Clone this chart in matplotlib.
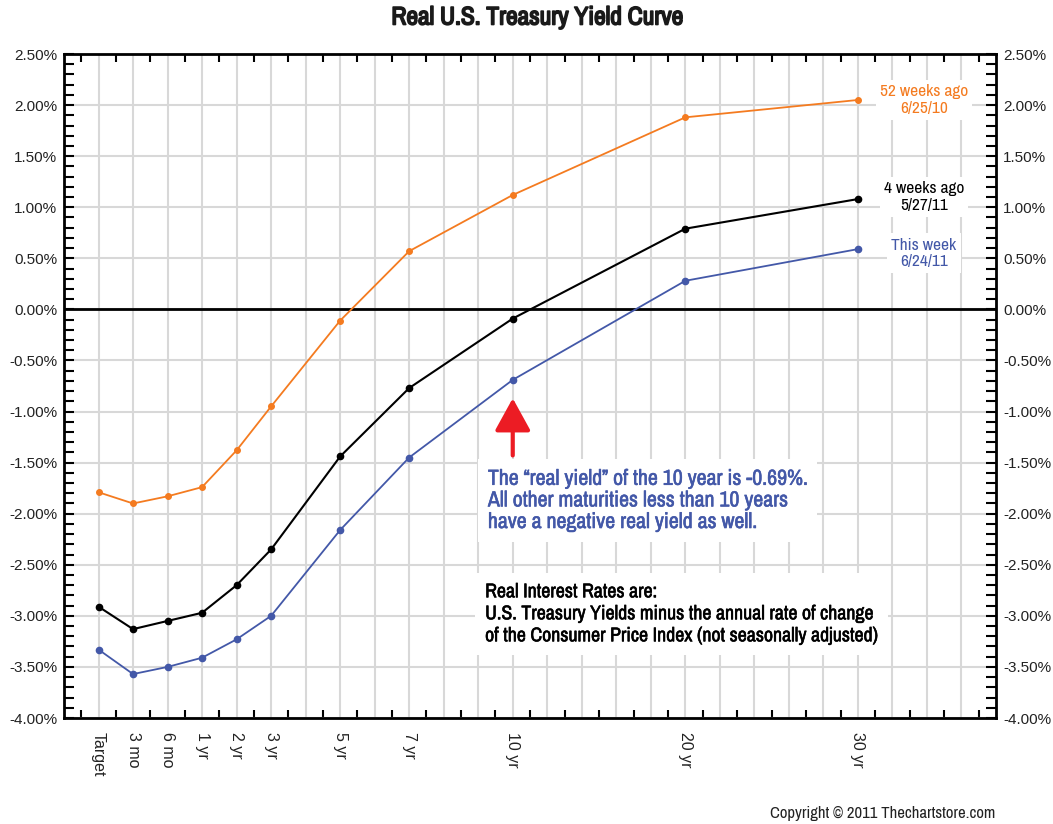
import matplotlib.pyplot as plt
import matplotlib.patheffects as pe
from matplotlib.ticker import FixedLocator, MultipleLocator, FuncFormatter
import numpy as np

plt.rcParams['font.family'] = ['Liberation Sans', 'DejaVu Sans']
narrow = ['Archivo Narrow', 'Liberation Sans', 'DejaVu Sans']

# maturities and where they sit on the grid
maturities = ['Target', '3 mo', '6 mo', '1 yr', '2 yr', '3 yr', '5 yr', '7 yr', '10 yr', '20 yr', '30 yr']
positions = [1, 2, 3, 4, 5, 6, 8, 10, 13, 18, 23]

# real yields (%)
this_week = [-3.33, -3.57, -3.50, -3.41, -3.23, -3.00, -2.16, -1.45, -0.69, 0.28, 0.59]
weeks4_ago = [-2.91, -3.13, -3.05, -2.97, -2.70, -2.35, -1.44, -0.77, -0.09, 0.79, 1.08]
weeks52_ago = [-1.79, -1.90, -1.83, -1.74, -1.38, -0.95, -0.11, 0.57, 1.12, 1.88, 2.05]

orange = '#f47b20'
blue = '#4358a8'
red = '#ec1c24'

fig = plt.figure(figsize=(10.53, 8.24), dpi=100)
ax = fig.add_axes([64 / 1053, 1 - 718 / 824, 932 / 1053, 664 / 824])

ax.plot(positions, weeks52_ago, color=orange, lw=1.3, marker='o', ms=4, zorder=4)
ax.plot(positions, weeks4_ago, color='black', lw=1.5, marker='o', ms=4.5, zorder=4)
ax.plot(positions, this_week, color=blue, lw=1.3, marker='o', ms=4.5, zorder=4)

ax.axhline(0, color='black', lw=2, zorder=3)

ax.set_xlim(0, 27)
ax.set_ylim(-4.0, 2.5)

# x axis: grid at every integer, small ticks halfway between
ax.xaxis.set_major_locator(FixedLocator(np.arange(1, 27)))
ax.set_xticklabels([maturities[positions.index(i)] if i in positions else '' for i in range(1, 27)],
                   rotation=270, fontsize=11.5, color='#222222')
ax.xaxis.set_minor_locator(FixedLocator(np.arange(0.5, 27, 1)))
ax.tick_params(axis='x', which='major', length=0, pad=10)
ax.tick_params(axis='x', which='minor', direction='in', length=6, width=1.5, top=True, bottom=True)

# y axis: labels on both sides, minor ticks every 0.1%
ax.yaxis.set_major_locator(MultipleLocator(0.5))
ax.yaxis.set_minor_locator(MultipleLocator(0.1))
ax.yaxis.set_major_formatter(FuncFormatter(lambda v, p: '%.2f%%' % v))
ax.tick_params(axis='y', which='both', direction='in', length=7, width=1.5, left=True, right=True,
               labelleft=True, labelright=True, labelsize=11, pad=5, labelcolor='#222222')

ax.grid(True, which='major', color='#d8d8d8', lw=1.5, zorder=0)
ax.set_axisbelow(True)
for s in ax.spines.values():
    s.set_linewidth(2)

# series labels on the right
ax.text(24.91, 2.05, '52 weeks ago\n6/25/10', color=orange, fontsize=12.5, ha='center', va='center',
        linespacing=1.1, family=narrow, bbox=dict(fc='white', ec='none', pad=3), zorder=5)
ax.text(24.91, 1.10, '4 weeks ago\n5/27/11', color='black', fontsize=12.5, ha='center', va='center',
        linespacing=1.1, family=narrow, bbox=dict(fc='white', ec='none', pad=3), zorder=5)
ax.text(24.91, 0.55, 'This week\n6/24/11', color=blue, fontsize=12.5, ha='center', va='center',
        linespacing=1.1, family=narrow, bbox=dict(fc='white', ec='none', pad=3), zorder=5)

# arrow pointing at the 10 year
ax.annotate('', xy=(13, -0.87), xytext=(13, -1.43),
            arrowprops=dict(arrowstyle='-|>,head_width=1.1,head_length=2.0', color=red, lw=3,
                            shrinkA=0, shrinkB=0),
            zorder=5)

ax.text(12.28, -1.87, 'The \u201creal yield\u201d of the 10 year is -0.69%.\n'
        'All other maturities less than 10 years\nhave a negative real yield as well.',
        color=blue, fontsize=15.7, ha='left', va='center', linespacing=1.1, family=narrow,
        bbox=dict(fc='white', ec='none', pad=7), zorder=5,
        path_effects=[pe.withStroke(linewidth=0.4, foreground=blue)])

ax.text(12.2, -2.98, 'Real Interest Rates are:\n'
        'U.S. Treasury Yields minus the annual rate of change\n'
        'of the Consumer Price Index (not seasonally adjusted)',
        color='black', fontsize=14.3, ha='left', va='center', linespacing=1.2, family=narrow,
        bbox=dict(fc='white', ec='none', pad=7), zorder=5,
        path_effects=[pe.withStroke(linewidth=0.4, foreground='black')])

fig.text(537 / 1053, 1 - 17 / 824, 'Real U.S. Treasury Yield Curve', ha='center', va='center',
         fontsize=18.3, family=narrow, color='#1a1a1a',
         path_effects=[pe.withStroke(linewidth=1.2, foreground='#1a1a1a')])
fig.text(995 / 1053, 1 - 813 / 824, 'Copyright \u00a9 2011 Thechartstore.com', ha='right', va='center',
         fontsize=12, color='#222222', family=narrow)

fig.savefig('out.png', dpi=100)
